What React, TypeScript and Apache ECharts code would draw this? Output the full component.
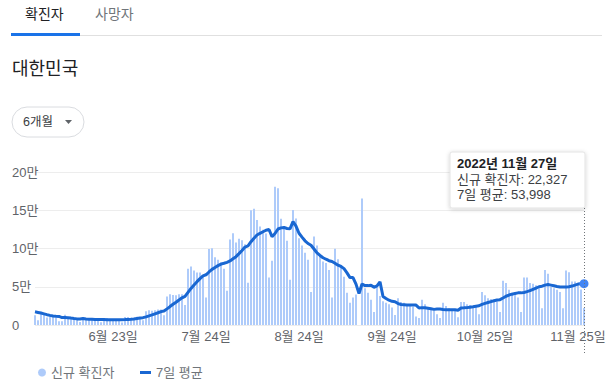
import React, { useEffect, useRef } from "react";
import * as echarts from "echarts";

const startYear = 2022;
const startMonth = 5; // May
const startDay = 28;

// 신규 확진자 (daily new cases)
const newCases: number[] = [
  12600, 6100, 15800, 13400, 9900, 12500, 12000,
  9800, 5000, 5000, 13400, 9500, 8400, 8000,
  6700, 3800, 9400, 9300, 7900, 7200, 6200,
  5800, 3500, 9300, 9100, 7500, 7200, 6200,
  6100, 3400, 10400, 10500, 9600, 9500, 10700,
  10100, 6300, 18100, 19300, 18500, 19300, 20400,
  20200, 12700, 37300, 40200, 39100, 38800, 40300,
  40200, 26300, 73600, 76400, 71100, 68600, 68500,
  65400, 35900, 99300, 100300, 88400, 85300, 82000,
  73600, 44700, 111800, 119900, 107900, 112900, 110700,
  105500, 55300, 149900, 151800, 137200, 128700, 124600,
  119600, 62100, 84100, 180800, 178600, 138800, 128700,
  110000, 59000, 150200, 139300, 113400, 104000, 94600,
  85300, 43100, 115600, 103900, 90000, 83000, 81000,
  72000, 36000, 99800, 86000, 78000, 63000, 42000,
  29000, 36000, 40000, 0, 165400, 48000, 42000,
  33000, 17000, 52000, 38000, 31000, 29000, 27000,
  23000, 13000, 35000, 30000, 29000, 27000, 26000,
  24000, 11000, 9000, 33000, 27000, 23000, 21000,
  19000, 14000, 9000, 29000, 25000, 22000, 21000,
  19000, 10000, 30000, 30000, 27000, 26000, 25000,
  24000, 14000, 43000, 39000, 35000, 34000, 33000,
  31000, 17000, 58000, 55000, 46000, 42000, 40000,
  36000, 17000, 62000, 62000, 55000, 54000, 52000,
  48000, 22000, 72000, 67000, 50000, 48000, 46000,
  43000, 22000, 71400, 69000, 57000, 57000, 55000,
  46300, 22327,
];

// 7일 평균 (7-day average)
const avg7: number[] = [
  17200, 16400, 15600, 14600, 13500, 12600, 11757,
  11357, 11200, 9657, 9657, 9600, 9014, 8443,
  8000, 7829, 8457, 7871, 7643, 7471, 7214,
  7086, 7043, 7029, 7000, 6943, 6943, 6943,
  6986, 6971, 7129, 7329, 7629, 7957, 8600,
  9171, 9586, 10686, 11943, 13214, 14614, 16000,
  17443, 18357, 21100, 24086, 27029, 29814, 32657,
  35514, 37457, 42643, 47814, 52386, 56643, 60671,
  64271, 65643, 69314, 72729, 75200, 77586, 79514,
  80686, 81943, 83729, 86529, 89314, 93257, 97357,
  101914, 103429, 108871, 113429, 117614, 119871, 121857,
  123871, 124843, 115443, 119586, 125500, 126943, 127529,
  126157, 125714, 135157, 129229, 119914, 114943, 110071,
  106543, 104271, 99329, 94271, 90929, 87929, 85986,
  84086, 83071, 80814, 78257, 76543, 73686, 68114,
  61971, 61971, 53429, 41143, 53629, 51486, 51486,
  52057, 49343, 51057, 56486, 37286, 34571, 32429,
  31000, 30429, 28000, 26857, 26571, 26286, 26143,
  26286, 26000, 22286, 22714, 22429, 21857, 21143,
  20429, 20857, 20857, 20286, 20000, 19857, 19857,
  19857, 19286, 22286, 22429, 22714, 23286, 23857,
  24571, 25143, 27000, 28286, 29429, 30571, 31714,
  32714, 33143, 35286, 37571, 39143, 40286, 41286,
  42000, 42000, 42571, 43571, 44857, 46571, 48286,
  50000, 50714, 52143, 52857, 52143, 51286, 50429,
  49714, 49714, 49629, 49914, 50914, 52200, 53486,
  53957, 53998,
];

const xTickLabels: string[] = ["6월 23일", "7월 24일", "8월 24일", "9월 24일", "10월 25일", "11월 25일"];
const yTickLabels: string[] = ["0", "5만", "10만", "15만", "20만"];
const seriesNames: string[] = ["신규 확진자", "7일 평균"];
const tabNames: string[] = ["확진자", "사망자"];
const regionName = "대한민국";
const rangeName = "6개월";

const categories: string[] = [];
const fullDates: string[] = [];
for (let i = 0; i < newCases.length; i++) {
  const d = new Date(startYear, startMonth - 1, startDay + i);
  categories.push(`${d.getMonth() + 1}월 ${d.getDate()}일`);
  fullDates.push(`${d.getFullYear()}년 ${d.getMonth() + 1}월 ${d.getDate()}일`);
}

const FONT = "'Liberation Sans', Arial, 'Noto Sans CJK KR', sans-serif";
const BAR = "#aecbfa";
const LINE = "#1967d2";
const GRAY = "#70757a";
const DARK = "#202124";

export default function App() {
  const ref = useRef<HTMLDivElement>(null);
  useEffect(() => {
    document.body.style.margin = "0";
    if (!ref.current) return;
    const chart = echarts.init(ref.current, null, { renderer: "svg" });
    const last = newCases.length - 1;
    chart.setOption({
      animation: false,
      textStyle: { fontFamily: FONT },
      grid: { left: 35, right: 29, top: 172, bottom: 64, containLabel: false, outerBoundsMode: "none" },
      legend: [
        {
          data: [{ name: seriesNames[0], icon: "circle" }],
          left: 33,
          top: 361,
          itemWidth: 8,
          itemHeight: 8,
          textStyle: { color: GRAY, fontSize: 13, fontFamily: FONT },
          selectedMode: false,
        },
        {
          data: [{ name: seriesNames[1], icon: "rect" }],
          left: 135,
          top: 361,
          itemWidth: 11,
          itemHeight: 3,
          textStyle: { color: GRAY, fontSize: 13, fontFamily: FONT },
          selectedMode: false,
        },
      ],
      xAxis: {
        type: "category",
        data: categories,
        boundaryGap: false,
        axisLine: { show: false },
        axisTick: { show: false },
        splitLine: { show: false },
        axisLabel: {
          interval: (_i: number, name: string) => xTickLabels.includes(name),
          color: "#5f6368",
          fontSize: 13,
          margin: 5,
          hideOverlap: false,
          fontFamily: FONT,
        },
      },
      yAxis: {
        type: "value",
        min: 0,
        max: 200000,
        interval: 50000,
        axisLine: { show: false },
        axisTick: { show: false },
        splitLine: { lineStyle: { color: "#ededed", width: 1 } },
        axisLabel: {
          align: "left",
          margin: 23,
          color: "#5f6368",
          fontSize: 13,
          fontFamily: FONT,
          formatter: (v: number) => yTickLabels[Math.round(v / 50000)],
        },
      },
      series: [
        {
          name: seriesNames[0],
          type: "bar",
          data: newCases,
          barWidth: 2,
          itemStyle: { color: BAR },
          z: 1,
        },
        {
          name: seriesNames[1],
          type: "line",
          data: avg7.map((v, i) =>
            i === last ? { value: v, itemStyle: { color: "#4285f4" } } : v
          ),
          showSymbol: true,
          showAllSymbol: true,
          symbol: "circle",
          symbolSize: (_v: any, p: any) => (p.dataIndex === last ? 9 : 0),
          itemStyle: { color: LINE },
          lineStyle: { color: LINE, width: 3 },
          emphasis: { disabled: true },
          z: 3,
        },
      ],
    });
    const [px] = chart.convertToPixel({ xAxisIndex: 0, yAxisIndex: 0 }, [last, avg7[last]]) as number[];
    const boxW = 135;
    const boxL = px - boxW + 1;
    chart.setOption({
      graphic: [
        { type: "rect", id: "tabline", shape: { x: 11, y: 35, width: 591, height: 1 }, style: { fill: "#e0e0e0" } },
        { type: "rect", id: "tabul", shape: { x: 11, y: 33, width: 69, height: 3 }, style: { fill: "#1a73e8" } },
        { type: "text", id: "tab0", x: 25, y: 14, style: { text: tabNames[0], fill: DARK, fontSize: 14, fontFamily: FONT, verticalAlign: "middle" } },
        { type: "text", id: "tab1", x: 95, y: 14, style: { text: tabNames[1], fill: GRAY, fontSize: 14, fontFamily: FONT, verticalAlign: "middle" } },
        { type: "text", id: "title", x: 12, y: 69, style: { text: regionName, fill: DARK, fontSize: 18, fontFamily: FONT, verticalAlign: "middle" } },
        { type: "rect", id: "pill", shape: { x: 12, y: 107, width: 72, height: 30, r: 15 }, style: { fill: "#fff", stroke: "#dadce0", lineWidth: 1 } },
        { type: "text", id: "pilltxt", x: 23, y: 122, style: { text: rangeName, fill: "#3c4043", fontSize: 12.5, fontFamily: FONT, verticalAlign: "middle" } },
        { type: "polygon", id: "tri", shape: { points: [[65, 120], [72, 120], [68.5, 124]] }, style: { fill: "#5f6368" } },
        { type: "line", id: "vline", z: 50, shape: { x1: px + 0.5, y1: 208, x2: px + 0.5, y2: 354 }, style: { stroke: "#70757a", lineWidth: 1, lineDash: [1, 2] } },
        {
          type: "rect", id: "tipbox", z: 60,
          shape: { x: boxL, y: 152, width: boxW, height: 56, r: 2 },
          style: { fill: "#fff", stroke: "#e3e3e3", lineWidth: 1, shadowBlur: 4, shadowOffsetY: 1, shadowColor: "rgba(0,0,0,0.18)" },
        },
        { type: "text", id: "tip0", z: 61, x: boxL + 7, y: 163, style: { text: fullDates[last], fill: DARK, fontSize: 13, fontWeight: "bold", fontFamily: FONT, verticalAlign: "middle" } },
        { type: "text", id: "tip1", z: 61, x: boxL + 7, y: 179, style: { text: `${seriesNames[0]}: ${newCases[last].toLocaleString("en-US")}`, fill: "#3c4043", fontSize: 13, fontFamily: FONT, verticalAlign: "middle" } },
        { type: "text", id: "tip2", z: 61, x: boxL + 7, y: 194, style: { text: `${seriesNames[1]}: ${avg7[last].toLocaleString("en-US")}`, fill: "#3c4043", fontSize: 13, fontFamily: FONT, verticalAlign: "middle" } },
      ],
    });
    return () => chart.dispose();
  }, []);
  return <div ref={ref} style={{ width: 613, height: 389, overflow: "hidden" }} />;
}
